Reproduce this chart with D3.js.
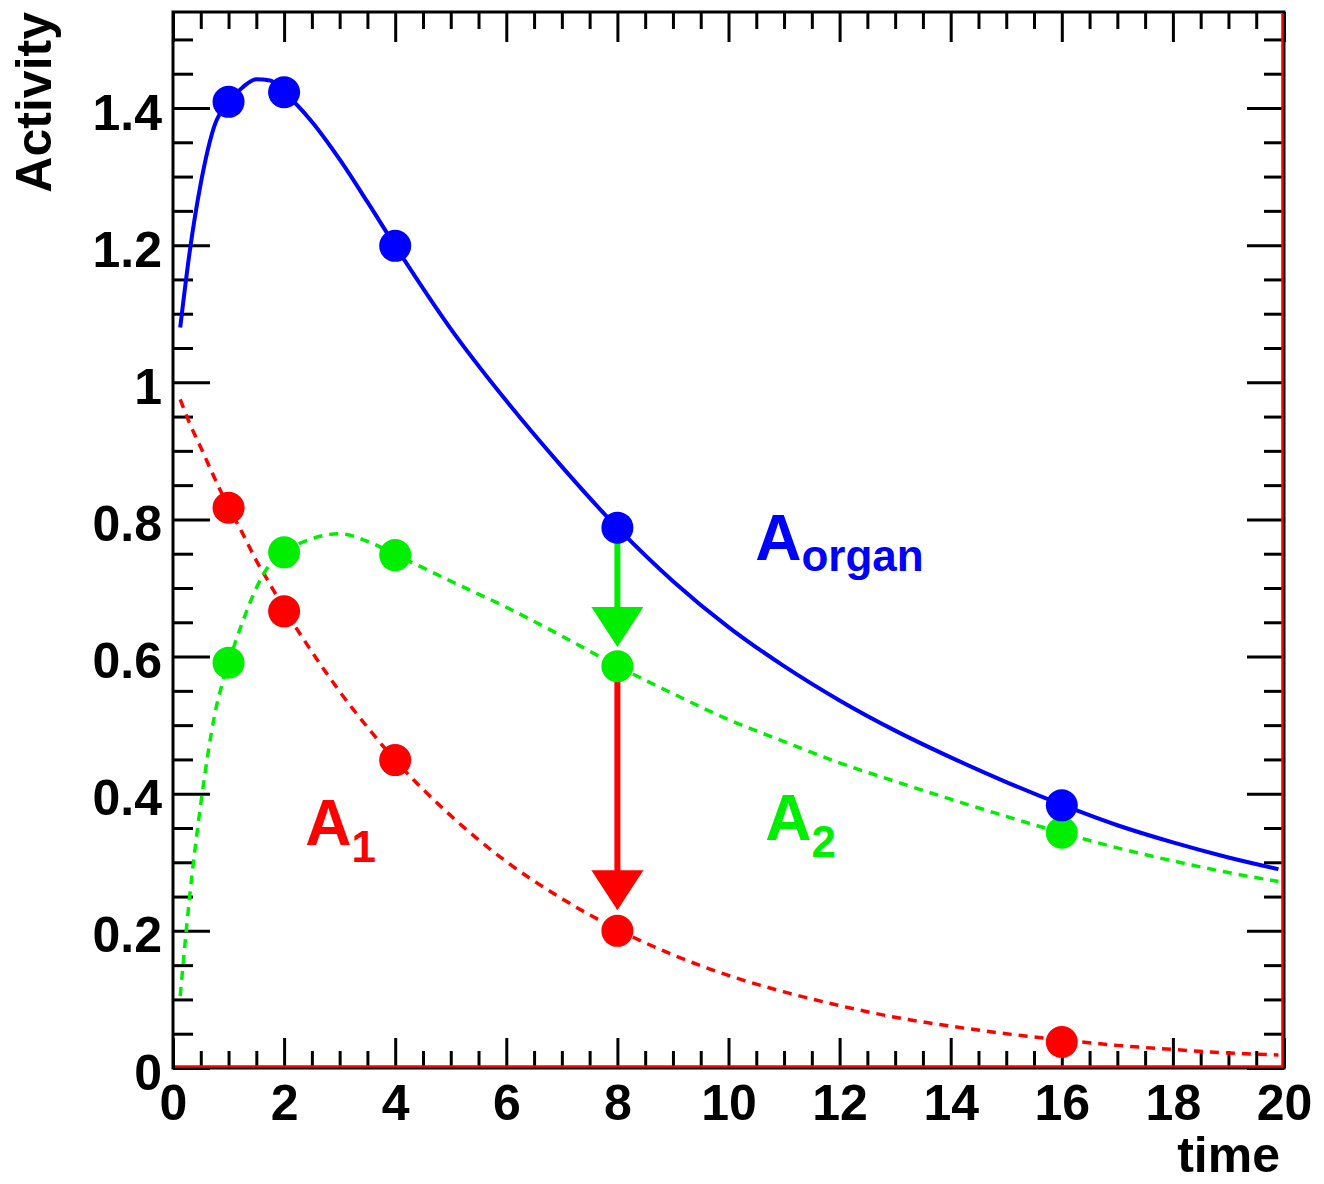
<!DOCTYPE html>
<html>
<head>
<meta charset="utf-8">
<script src="https://cdn.jsdelivr.net/npm/d3@7"></script>
<style>
  body { margin: 0; background: #fff; }
  svg text { font-family: "Liberation Sans", Arial, Helvetica, sans-serif; font-weight: bold; }
</style>
</head>
<body>
<div id="chart"></div>
<script>
const width = 1324;
const height = 1184;

const curveTimes = [0.13, 0.3, 0.5, 0.75, 1, 1.25, 1.5, 1.75, 2, 2.5, 3, 3.5, 4, 5, 6, 7, 8, 9, 10, 11, 12, 13, 14, 15, 16, 17, 18, 19, 19.9];
const organCurve = [1.08, 1.19, 1.29, 1.375, 1.409, 1.43, 1.442, 1.44, 1.423, 1.38, 1.325, 1.263, 1.199, 1.078, 0.973, 0.877, 0.788, 0.71, 0.643, 0.586, 0.536, 0.492, 0.453, 0.417, 0.384, 0.354, 0.329, 0.307, 0.29];
const a1Curve = [0.975, 0.94, 0.905, 0.86, 0.818, 0.78, 0.74, 0.705, 0.67, 0.607, 0.549, 0.497, 0.449, 0.368, 0.301, 0.247, 0.202, 0.165, 0.135, 0.111, 0.091, 0.074, 0.061, 0.05, 0.041, 0.033, 0.027, 0.022, 0.019];
const a2Curve = [0.105, 0.25, 0.385, 0.515, 0.59, 0.65, 0.7, 0.735, 0.752, 0.772, 0.779, 0.768, 0.749, 0.71, 0.672, 0.63, 0.586, 0.546, 0.508, 0.476, 0.445, 0.418, 0.392, 0.367, 0.343, 0.321, 0.302, 0.285, 0.272];

// measured points
const pointTimes = [1, 2, 4, 8, 16];
const organPoints = [1.409, 1.423, 1.199, 0.788, 0.383];
const a1Points = [0.817, 0.666, 0.449, 0.2, 0.038];
const a2Points = [0.591, 0.752, 0.748, 0.586, 0.343];

// arrows at t = 8
const arrowTime = 8;
const greenArrow = [0.786, 0.614];
const redArrow = [0.586, 0.23];

const xMajor = [0, 2, 4, 6, 8, 10, 12, 14, 16, 18, 20];
const yMajor = [0, 0.2, 0.4, 0.6, 0.8, 1, 1.2, 1.4];

const labels = [
    {main: "A", sub: "organ", t: 10.48, v: 0.741, color: "#0000ff", dy: 11},
    {main: "A", sub: "1", t: 2.38, v: 0.325, color: "#ff0000", dy: 17},
    {main: "A", sub: "2", t: 10.66, v: 0.333, color: "#00ee00", dy: 17}
];

const x = d3.scaleLinear().domain([0, 20]).range([173, 1284]);
const y = d3.scaleLinear().domain([0, 1.54]).range([1068, 12]);

const svg = d3.select("#chart")
    .append("svg")
        .attr("width", width)
        .attr("height", height);

// minor tick values
const xMinor = d3.range(0, 20.01, 0.5).filter(v => v % 2 !== 0);
const yMinor = d3.range(0, 1.5401, 0.05).filter(v => Math.abs(v * 5 - Math.round(v * 5)) > 1e-6);

function styleAxis(g) {
    g.select(".domain").remove();
    g.selectAll(".tick line").attr("stroke", "#000").attr("stroke-width", 3);
}

// bottom axis
svg.append("g")
    .attr("transform", `translate(0, ${y(0)})`)
    .call(d3.axisBottom(x).tickValues(xMajor).tickFormat(d3.format("d"))
        .tickSizeInner(-30).tickSizeOuter(0).tickPadding(16))
    .call(styleAxis)
    .selectAll("text")
        .attr("font-size", 50)
        .attr("fill", "#000");
svg.append("g")
    .attr("transform", `translate(0, ${y(0)})`)
    .call(d3.axisBottom(x).tickValues(xMinor).tickFormat("").tickSizeInner(-17).tickSizeOuter(0))
    .call(styleAxis);

// top axis
svg.append("g")
    .attr("transform", `translate(0, ${y(1.54)})`)
    .call(d3.axisTop(x).tickValues(xMajor).tickFormat("").tickSizeInner(-30).tickSizeOuter(0))
    .call(styleAxis);
svg.append("g")
    .attr("transform", `translate(0, ${y(1.54)})`)
    .call(d3.axisTop(x).tickValues(xMinor).tickFormat("").tickSizeInner(-17).tickSizeOuter(0))
    .call(styleAxis);

// left axis
svg.append("g")
    .attr("transform", `translate(${x(0)}, 0)`)
    .call(d3.axisLeft(y).tickValues(yMajor).tickFormat(d => d === 0 ? "0" : d3.format("~g")(d))
        .tickSizeInner(-37).tickSizeOuter(0).tickPadding(11))
    .call(styleAxis)
    .selectAll("text")
        .attr("font-size", 50)
        .attr("dy", "0.42em")
        .attr("fill", "#000");
svg.append("g")
    .attr("transform", `translate(${x(0)}, 0)`)
    .call(d3.axisLeft(y).tickValues(yMinor).tickFormat("").tickSizeInner(-20).tickSizeOuter(0))
    .call(styleAxis);

// right axis
svg.append("g")
    .attr("transform", `translate(${x(20)}, 0)`)
    .call(d3.axisRight(y).tickValues(yMajor).tickFormat("").tickSizeInner(-37).tickSizeOuter(0))
    .call(styleAxis);
svg.append("g")
    .attr("transform", `translate(${x(20)}, 0)`)
    .call(d3.axisRight(y).tickValues(yMinor).tickFormat("").tickSizeInner(-20).tickSizeOuter(0))
    .call(styleAxis);

// frame
svg.append("rect")
    .attr("x", x(0))
    .attr("y", y(1.54))
    .attr("width", x(20) - x(0))
    .attr("height", y(0) - y(1.54))
    .attr("fill", "none")
    .attr("stroke", "#000")
    .attr("stroke-width", 3);
svg.append("path")
    .attr("d", `M${x(0) + 2},${y(0) - 1.5}H${x(20) - 1.5}V${y(1.54) + 2}`)
    .attr("fill", "none")
    .attr("stroke", "#ff0000")
    .attr("stroke-width", 2.5);

// axis titles
svg.append("text")
    .attr("transform", `translate(51, ${y(1.54)}) rotate(-90)`)
    .attr("text-anchor", "end")
    .attr("font-size", 50)
    .text("Activity");
svg.append("text")
    .attr("x", 1280)
    .attr("y", 1172)
    .attr("text-anchor", "end")
    .attr("font-size", 50)
    .text("time");

// curves
const line = d3.line()
    .x(d => x(d[0]))
    .y(d => y(d[1]))
    .curve(d3.curveMonotoneX);

const curves = [
    {values: a1Curve, color: "#ff0000", dash: "9 7", width: 3.5},
    {values: a2Curve, color: "#00ee00", dash: "9 7", width: 3.5},
    {values: organCurve, color: "#0000ff", dash: null, width: 4}
];

svg.selectAll("path.curve")
    .data(curves)
    .enter().append("path")
        .attr("class", "curve")
        .attr("d", d => line(curveTimes.map((t, i) => [t, d.values[i]])))
        .attr("fill", "none")
        .attr("stroke", d => d.color)
        .attr("stroke-width", d => d.width)
        .attr("stroke-dasharray", d => d.dash);

// arrows
const arrows = [
    {from: greenArrow[0], to: greenArrow[1], color: "#00ee00"},
    {from: redArrow[0], to: redArrow[1], color: "#ff0000"}
];
const headLen = 40;
const headHalf = 26;

arrows.forEach(a => {
    const ax = x(arrowTime);
    const tipY = y(a.to);
    svg.append("line")
        .attr("x1", ax).attr("x2", ax)
        .attr("y1", y(a.from)).attr("y2", tipY - headLen + 2)
        .attr("stroke", a.color)
        .attr("stroke-width", 6);
    svg.append("path")
        .attr("d", `M${ax - headHalf},${tipY - headLen}L${ax + headHalf},${tipY - headLen}L${ax},${tipY}Z`)
        .attr("fill", a.color);
});

// markers
const markerSets = [
    {values: a1Points, color: "#ff0000"},
    {values: a2Points, color: "#00ee00"},
    {values: organPoints, color: "#0000ff"}
];

markerSets.forEach(set => {
    svg.append("g")
        .selectAll("circle")
        .data(pointTimes.map((t, i) => [t, set.values[i]]))
        .enter().append("circle")
            .attr("cx", d => x(d[0]))
            .attr("cy", d => y(d[1]))
            .attr("r", 16)
            .attr("fill", set.color);
});

// labels
const lab = svg.selectAll("text.label")
    .data(labels)
    .enter().append("text")
        .attr("class", "label")
        .attr("x", d => x(d.t))
        .attr("y", d => y(d.v))
        .attr("fill", d => d.color)
        .attr("font-size", 64);
lab.append("tspan").text(d => d.main);
lab.append("tspan")
    .attr("font-size", 44)
    .attr("dy", d => d.dy)
    .text(d => d.sub);
</script>
</body>
</html>
